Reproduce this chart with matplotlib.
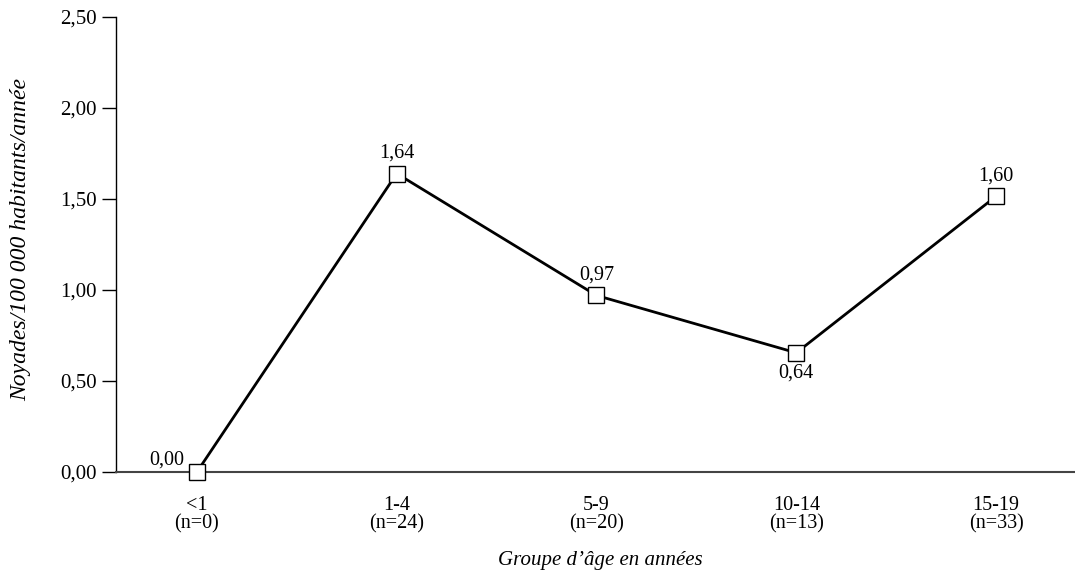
import matplotlib
matplotlib.use("Agg")
import matplotlib.pyplot as plt

categories = ["<1", "1-4", "5-9", "10-14", "15-19"]
counts = [0, 24, 20, 13, 33]
values = [0.00, 1.64, 0.97, 0.655, 1.515]
value_labels = ["0,00", "1,64", "0,97", "0,64", "1,60"]
label_pos = ["upleft", "above", "above", "below", "above"]
yticks = [0.0, 0.5, 1.0, 1.5, 2.0, 2.5]
ytick_labels = ["0,00", "0,50", "1,00", "1,50", "2,00", "2,50"]

plt.rcParams['font.family'] = ['Liberation Serif', 'DejaVu Serif']

fig = plt.figure(figsize=(10.75, 5.73), dpi=100)
ax = fig.add_axes([116/1075, 101/573, 1 - 116/1075, 455/573])

x = list(range(len(categories)))
ax.plot(x, values, color='black', lw=2, marker='s', markersize=12,
        markerfacecolor='white', markeredgecolor='black', markeredgewidth=1, zorder=3,
        clip_on=False)

fs = 14.5
for xi, v, lab, pos in zip(x, values, value_labels, label_pos):
    if pos == "above":
        ax.annotate(lab, (xi, v), xytext=(0, 8), textcoords='offset points',
                    ha='center', va='bottom', fontsize=fs)
    elif pos == "below":
        ax.annotate(lab, (xi, v), xytext=(0, -8), textcoords='offset points',
                    ha='center', va='top', fontsize=fs)
    else:
        ax.annotate(lab, (xi, v), xytext=(-9, 2), textcoords='offset points',
                    ha='right', va='bottom', fontsize=fs)

ax.set_xlim(-0.405, 4.395)
ax.set_ylim(0, 2.5)
ax.set_yticks(yticks)
ax.set_yticklabels(ytick_labels, fontsize=15)
ax.set_xticks(x)
ax.set_xticklabels([f"{c}\n(n={n})" for c, n in zip(categories, counts)], fontsize=14.5,
                   linespacing=0.95)
ax.tick_params(axis='x', length=0, pad=17)
ax.tick_params(axis='y', length=10, width=1, direction='out', pad=4)

ax.spines['top'].set_visible(False)
ax.spines['right'].set_visible(False)
ax.spines['left'].set_linewidth(1)
ax.spines['bottom'].set_linewidth(1.5)
ax.spines['bottom'].set_color('#444444')

ax.set_ylabel("Noyades/100 000 habitants/année", fontsize=17, style='italic')
ax.yaxis.set_label_coords(-0.088, 0.51)
ax.set_xlabel("Groupe d’âge en années", fontsize=15, style='italic')
ax.xaxis.set_label_coords(0.505, -0.173)

fig.savefig("out.png", dpi=100)
